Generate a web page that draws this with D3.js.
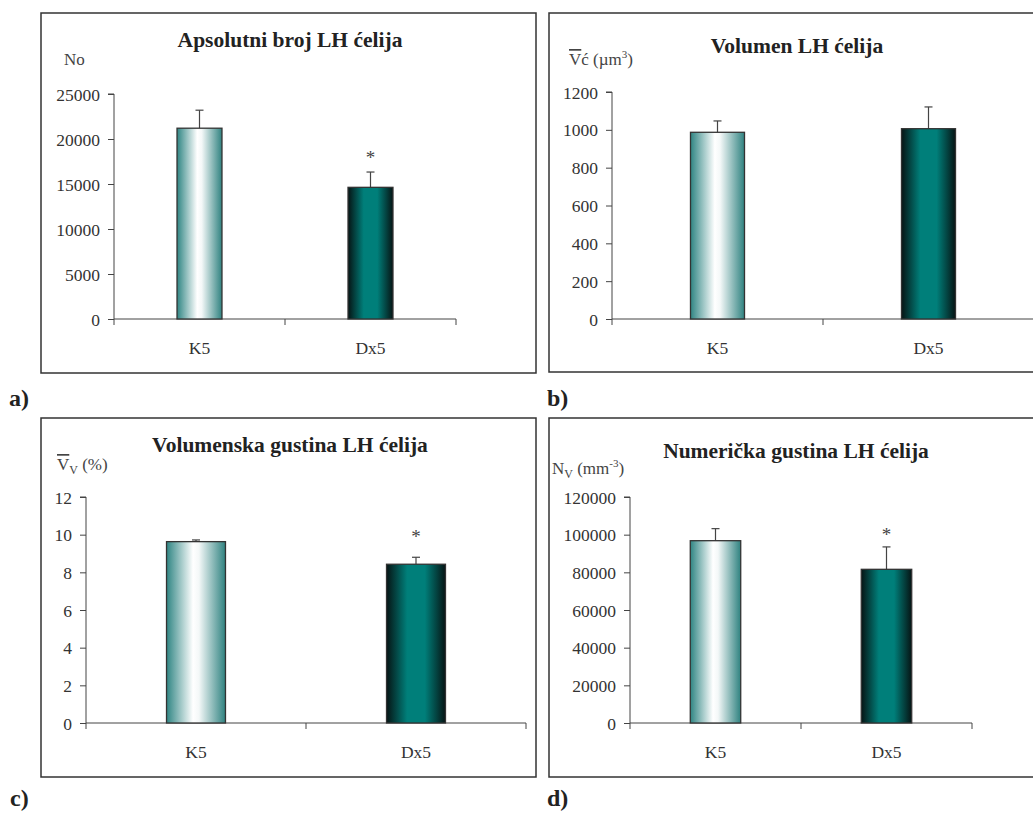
<!DOCTYPE html>
<html><head><meta charset="utf-8">
<script src="https://cdn.jsdelivr.net/npm/d3@7"></script>
<style>
html,body{margin:0;padding:0;background:#fff;}
svg{display:block;font-family:"Liberation Serif","DejaVu Serif",serif;}
svg text{font-family:"Liberation Serif","DejaVu Serif",serif;}
</style></head>
<body>
<svg id="chart" width="1033" height="814"></svg>
<script>
// ---------- data ----------
const categories = ["K5", "Dx5"];

const titleA = "Apsolutni broj LH ćelija";
const meansA = [21200, 14630];
const errA   = [2000, 1700];
const sigA   = [false, true];
const ticksA = [0, 5000, 10000, 15000, 20000, 25000];

const titleB = "Volumen LH ćelija";
const meansB = [987, 1006];
const errB   = [60, 115];
const sigB   = [false, false];
const ticksB = [0, 200, 400, 600, 800, 1000, 1200];

const titleC = "Volumenska gustina LH ćelija";
const meansC = [9.63, 8.43];
const errC   = [0.09, 0.37];
const sigC   = [false, true];
const ticksC = [0, 2, 4, 6, 8, 10, 12];

const titleD = "Numerička gustina LH ćelija";
const meansD = [96800, 81600];
const errD   = [6400, 11900];
const sigD   = [false, true];
const ticksD = [0, 20000, 40000, 60000, 80000, 100000, 120000];

const panelLetters = ["a)", "b)", "c)", "d)"];

// ---------- drawing ----------
const svg = d3.select("#chart");
const defs = svg.append("defs");
const gLight = defs.append("linearGradient").attr("id","gLight").attr("x1","0%").attr("x2","100%");
[["0%","#2f8583"],["45%","#ffffff"],["55%","#f4f8f8"],["100%","#2f8280"]].forEach(s=>gLight.append("stop").attr("offset",s[0]).attr("stop-color",s[1]));
const gDark = defs.append("linearGradient").attr("id","gDark").attr("x1","0%").attr("x2","100%");
[["0%","#061414"],["35%","#007f7a"],["65%","#007f7a"],["100%","#061414"]].forEach(s=>gDark.append("stop").attr("offset",s[0]).attr("stop-color",s[1]));
const fills = ["url(#gLight)", "url(#gDark)"];

const panels = [
  {title:titleA, means:meansA, err:errA, sig:sigA, ticks:ticksA,
   frame:[41,13,495,360], x0:114, x1:456, y0:319, yTop:94, bw:0.263, starGap:8,
   titlePos:[290,47], ylab:[64,65], ylabType:"No", letter:[9,406]},
  {title:titleB, means:meansB, err:errB, sig:sigB, ticks:ticksB,
   frame:[549,13,520,359], x0:612, x1:1034, y0:319, yTop:92, bw:0.256, starGap:8,
   titlePos:[797,53], ylab:[569,65], ylabType:"Vc", letter:[547,406]},
  {title:titleC, means:meansC, err:errC, sig:sigC, ticks:ticksC,
   frame:[41,418,495,359], x0:86, x1:526, y0:723, yTop:497, bw:0.268, starGap:14,
   titlePos:[290,452], ylab:[57,470], ylabType:"Vv", letter:[10,806]},
  {title:titleD, means:meansD, err:errD, sig:sigD, ticks:ticksD,
   frame:[549,418,520,359], x0:630, x1:972, y0:723, yTop:497, bw:0.295, starGap:6,
   titlePos:[796,458], ylab:[552,474], ylabType:"Nv", letter:[547,806]}
];

const FONT = "'Liberation Serif','DejaVu Serif',serif";

panels.forEach((p, pi) => {
  const g = svg.append("g");
  g.append("rect").attr("x",p.frame[0]).attr("y",p.frame[1]).attr("width",p.frame[2]).attr("height",p.frame[3])
    .attr("fill","none").attr("stroke","#333").attr("stroke-width",1.5);

  const x = d3.scaleBand().domain(categories).range([p.x0, p.x1]).padding(0);
  const y = d3.scaleLinear().domain([d3.min(p.ticks), d3.max(p.ticks)]).range([p.y0, p.yTop]);

  // y axis
  const yAxis = g.append("g").attr("transform",`translate(${p.x0},0)`)
    .call(d3.axisLeft(y).tickValues(p.ticks).tickSize(6).tickPadding(8).tickFormat(d3.format("d")));
  yAxis.attr("font-family", null);
  yAxis.select(".domain").attr("stroke","#444").attr("d",`M-6,${p.yTop}H0V${p.y0}`);
  yAxis.selectAll(".tick line").attr("stroke","#444");
  yAxis.selectAll(".tick text").attr("fill","#333").attr("dy","0.35em")
    .style("font-size","17.5px").style("font-family",FONT);

  // x axis
  const xAxis = g.append("g").attr("transform",`translate(0,${p.y0})`);
  xAxis.append("line").attr("x1",p.x0).attr("x2",p.x1).attr("stroke","#444");
  const bounds = [p.x0, ...categories.slice(1).map(c=>x(c)), p.x1];
  xAxis.selectAll("line.tk").data(bounds).join("line").attr("class","tk")
    .attr("x1",d=>d).attr("x2",d=>d).attr("y1",0).attr("y2",6).attr("stroke","#444");
  xAxis.selectAll("text").data(categories).join("text")
    .attr("x",d=>x(d)+x.bandwidth()/2).attr("y",35).attr("text-anchor","middle")
    .attr("fill","#333").style("font-size","17.5px").style("font-family",FONT).text(d=>d);

  const bw = x.bandwidth()*p.bw;
  const cx = d => x(d)+x.bandwidth()/2;

  // error bars (upward)
  categories.forEach((c,i)=>{
    const top = y(p.means[i]+p.err[i]);
    g.append("line").attr("x1",cx(c)).attr("x2",cx(c)).attr("y1",y(p.means[i])).attr("y2",top).attr("stroke","#444").attr("stroke-width",1.2);
    g.append("line").attr("x1",cx(c)-4).attr("x2",cx(c)+4).attr("y1",top).attr("y2",top).attr("stroke","#444").attr("stroke-width",1.2);
    if (p.sig[i]) {
      g.append("text").attr("x",cx(c)).attr("y",top-p.starGap).attr("text-anchor","middle")
        .attr("fill","#444").style("font-size","19px").style("font-family",FONT).text("*");
    }
  });

  // bars
  g.selectAll("rect.bar").data(categories).join("rect").attr("class","bar")
    .attr("x",d=>cx(d)-bw/2).attr("width",bw)
    .attr("y",(d,i)=>y(p.means[i])).attr("height",(d,i)=>p.y0-y(p.means[i]))
    .attr("fill",(d,i)=>fills[i]).attr("stroke","#333").attr("stroke-width",1.3);

  // title
  g.append("text").attr("x",p.titlePos[0]).attr("y",p.titlePos[1]).attr("text-anchor","middle")
    .attr("fill","#222").style("font-size","21.5px").style("font-weight","bold").style("font-family",FONT).text(p.title);

  // y label
  const yl = g.append("text").attr("x",p.ylab[0]).attr("y",p.ylab[1]).attr("fill","#444")
    .style("font-size","17px").style("font-family",FONT);
  if (p.ylabType==="No") {
    yl.text("No");
  } else if (p.ylabType==="Vc") {
    yl.append("tspan").style("text-decoration","overline").text("V");
    yl.append("tspan").text("ć (µm");
    yl.append("tspan").attr("dy",-7).style("font-size","11px").text("3");
    yl.append("tspan").attr("dy",7).text(")");
  } else if (p.ylabType==="Vv") {
    yl.append("tspan").style("text-decoration","overline").text("V");
    yl.append("tspan").attr("dy",4).style("font-size","12px").text("V");
    yl.append("tspan").attr("dy",-4).text(" (%)");
  } else {
    yl.append("tspan").text("N");
    yl.append("tspan").attr("dy",4).style("font-size","12px").text("V");
    yl.append("tspan").attr("dy",-4).text(" (mm");
    yl.append("tspan").attr("dy",-7).style("font-size","11px").text("-3");
    yl.append("tspan").attr("dy",7).text(")");
  }

  // panel letter
  svg.append("text").attr("x",p.letter[0]).attr("y",p.letter[1]).attr("fill","#222")
    .style("font-size","24px").style("font-weight","bold").style("font-family",FONT).text(panelLetters[pi]);
});
</script>
</body></html>
